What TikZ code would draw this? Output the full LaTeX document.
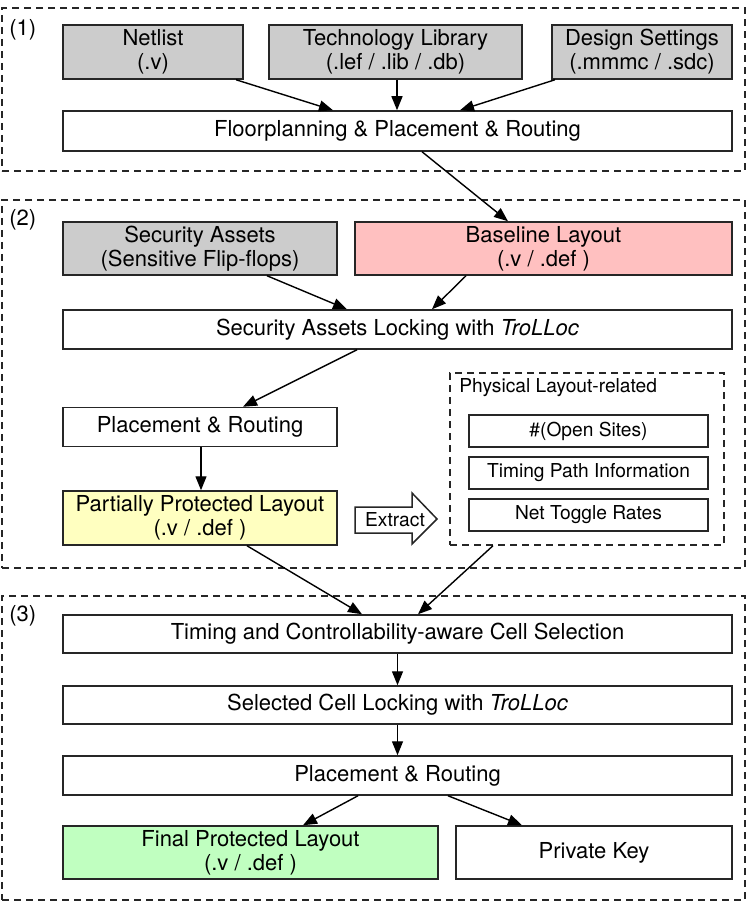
\documentclass[tikz,border=0pt]{standalone}
\usepackage{fontspec}
\setmainfont{TeX Gyre Heros}
\usetikzlibrary{arrows.meta,calc}
\definecolor{grayfill}{RGB}{204,204,204}
\definecolor{pinkfill}{RGB}{255,192,192}
\definecolor{yellowfill}{RGB}{255,255,192}
\definecolor{greenfill}{RGB}{192,255,192}
\begin{document}
\begin{tikzpicture}[x=0.5pt,y=-0.5pt,
  box/.style={draw=black!85, line width=0.75pt, inner sep=0pt, align=center,
    font=\fontsize{11}{12}\selectfont},
  smallbox/.style={box, font=\fontsize{9.6}{11}\selectfont},
  group/.style={draw=black!85, line width=0.7pt, dash pattern=on 3.5pt off 2.5pt, inner sep=0pt},
  grp/.style={inner sep=0pt, anchor=west, font=\fontsize{11}{12}\selectfont},
  arr/.style={-{Triangle[length=7pt,width=5.5pt]}, line width=0.7pt}]
\useasboundingbox (0,0) rectangle (747,903);
% groups
\node[group, minimum width=371.5pt, minimum height=81.5pt] (g1) at (373.5,89.5) {};
\node[group, minimum width=371.5pt, minimum height=184pt] (g2) at (373.5,384) {};
\node[group, minimum width=371.5pt, minimum height=152pt] (g3) at (373.5,748) {};
\node[grp] (l1) at (9,30) {(1)};
\node[grp] (l2) at (9,220) {(2)};
\node[grp] (l3) at (9,616) {(3)};
% stage 1
\node[box, fill=grayfill, minimum width=90pt, minimum height=27pt] (net) at (153,52) {Netlist\\(.v)};
\node[box, fill=grayfill, minimum width=126.5pt, minimum height=27pt] (tech) at (395.5,52) {Technology Library\\(.lef / .lib / .db)};
\node[box, fill=grayfill, minimum width=90pt, minimum height=27pt] (design) at (642,52) {Design Settings\\(.mmmc / .sdc)};
\node[box, minimum width=334.5pt, minimum height=20pt] (fp) at (397.5,131) {Floorplanning \& Placement \& Routing};
% stage 2
\node[box, fill=grayfill, minimum width=137pt, minimum height=26.5pt] (sa) at (200,248.5) {Security Assets\\(Sensitive Flip-flops)};
\node[box, fill=pinkfill, minimum width=188.5pt, minimum height=26.5pt] (base) at (543.5,248.5) {Baseline Layout\\(.v / .def )};
\node[box, minimum width=334.5pt, minimum height=19.5pt] (lock) at (397.5,329.5) {Security Assets Locking with \textit{TroLLoc}};
\node[box, minimum width=137pt, minimum height=19.5pt] (pr2) at (200,427) {Placement \& Routing};
\node[box, fill=yellowfill, minimum width=137pt, minimum height=27pt] (ppl) at (200,518) {Partially Protected Layout\\(.v / .def )};
\node[group, minimum width=137pt, minimum height=86pt] (phys) at (587,459) {};
\node[inner sep=0pt, anchor=west, font=\fontsize{9.6}{11}\selectfont] (physl) at (459,388) {Physical Layout-related};
\node[smallbox, minimum width=119.5pt, minimum height=16pt] (open) at (588.5,431) {\#(Open Sites)};
\node[smallbox, minimum width=119.5pt, minimum height=16pt] (tpi) at (588.5,473) {Timing Path Information};
\node[smallbox, minimum width=119.5pt, minimum height=16pt] (ntr) at (588.5,515) {Net Toggle Rates};
\draw[line width=0.75pt, draw=black!85] (355,507) -- (412,507) -- (412,493) -- (437,519) -- (412,544) -- (412,533) -- (355,533) -- cycle;
\node[inner sep=0pt, font=\fontsize{9.6}{11}\selectfont] (ext) at (395,520) {Extract};
% stage 3
\node[box, minimum width=334.5pt, minimum height=19pt] (tcs) at (397.5,634) {Timing and Controllability-aware Cell Selection};
\node[box, minimum width=334.5pt, minimum height=19pt] (scl) at (397.5,705) {Selected Cell Locking with \textit{TroLLoc}};
\node[box, minimum width=334.5pt, minimum height=19.5pt] (pr3) at (397.5,775.5) {Placement \& Routing};
\node[box, fill=greenfill, minimum width=187.5pt, minimum height=26.5pt] (fpl) at (250.5,852.5) {Final Protected Layout\\(.v / .def )};
\node[box, minimum width=138pt, minimum height=26.5pt] (pk) at (594,852.5) {Private Key};
% arrows
\draw[arr] ([xshift=41.5pt]net.south) -- ([xshift=-32.25pt]fp.north);
\draw[arr] ([xshift=0.75pt]tech.south) -- ([xshift=-0.25pt]fp.north);
\draw[arr] ([xshift=-43.5pt]design.south) -- ([xshift=31.25pt]fp.north);
\draw[arr] ([xshift=12.25pt]fp.south) -- ([xshift=-17.75pt]base.north);
\draw[arr] ([xshift=33.5pt]sa.south) -- ([xshift=-25.25pt]lock.north);
\draw[arr] ([xshift=-38.75pt]base.south) -- ([xshift=17.25pt]lock.north);
\draw[arr] ([xshift=-20.25pt]lock.south) -- ([xshift=21.5pt]pr2.north);
\draw[arr] ([xshift=0.5pt]pr2.south) -- ([xshift=0.5pt]ppl.north);
\draw[arr] ([xshift=23.5pt]ppl.south) -- ([xshift=-17.75pt]tcs.north);
\draw[arr] ([xshift=-47pt]phys.south) -- ([xshift=10.25pt]tcs.north);
\draw[arr] (tcs.south) -- (scl.north);
\draw[arr] (scl.south) -- (pr3.north);
\draw[arr] ([xshift=-19.75pt]pr3.south) -- ([xshift=26.25pt]fpl.north);
\draw[arr] ([xshift=25.25pt]pr3.south) -- ([xshift=-36pt]pk.north);
\end{tikzpicture}
\end{document}
